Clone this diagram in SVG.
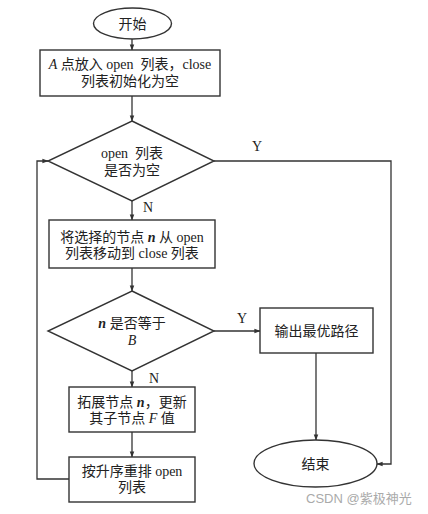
<svg xmlns="http://www.w3.org/2000/svg" width="428" height="514" viewBox="0 0 428 514">
<style>
.s{fill:#fff;stroke:#333;stroke-width:1.4}
.c{fill:none;stroke:#333;stroke-width:1.3}
text{font-family:"Liberation Serif","Noto Sans CJK SC",serif;font-size:14px;fill:#222;text-anchor:middle;white-space:pre}
.i{font-style:italic}
.wm{font-family:"Liberation Sans","Noto Sans CJK SC",sans-serif;font-size:13px;fill:#aaa;text-anchor:start}
</style>
<defs>
<marker id="a" viewBox="0 0 8 8" refX="7.5" refY="4" markerWidth="6" markerHeight="6" orient="auto" markerUnits="userSpaceOnUse"><path d="M0,1 L8,4 L0,7 Z" fill="#333"/></marker>
</defs>
<rect width="428" height="514" fill="#fff"/>
<g id="connectors">
<line class="c" x1="132" y1="39" x2="132" y2="50" marker-end="url(#a)"/>
<line class="c" x1="132" y1="96" x2="132" y2="121" marker-end="url(#a)"/>
<polyline class="c" points="214,161 391,161 391,464 377,464" marker-end="url(#a)"/>
<line class="c" x1="132" y1="201" x2="132" y2="220" marker-end="url(#a)"/>
<line class="c" x1="132" y1="268" x2="132" y2="291" marker-end="url(#a)"/>
<line class="c" x1="214" y1="331" x2="260" y2="331" marker-end="url(#a)"/>
<line class="c" x1="316" y1="353" x2="316" y2="440" marker-end="url(#a)"/>
<line class="c" x1="132" y1="371" x2="132" y2="387" marker-end="url(#a)"/>
<line class="c" x1="132" y1="432" x2="132" y2="457" marker-end="url(#a)"/>
<polyline class="c" points="69,479 37,479 37,161 48,161" marker-end="url(#a)"/>
<text x="257" y="151">Y</text>
<text x="148" y="212">N</text>
<text x="242" y="323">Y</text>
<text x="154" y="383">N</text>
</g>
<g id="start">
<ellipse class="s" cx="132.5" cy="23.5" rx="39" ry="15.5"/>
<text x="132.5" y="28.5">开始</text>
</g>
<g id="init">
<rect class="s" x="40" y="50" width="180" height="46"/>
<text x="130" y="69"><tspan class="i">A</tspan> 点放入 open  列表，close</text>
<text x="130" y="86">列表初始化为空</text>
</g>
<g id="check-open">
<polygon class="s" points="132,121 214,161 132,201 48,161"/>
<text x="132" y="158">open  列表</text>
<text x="132" y="175">是否为空</text>
</g>
<g id="move">
<rect class="s" x="49" y="220" width="166" height="48"/>
<text x="132" y="242">将选择的节点 <tspan class="i" font-weight="bold">n</tspan> 从 open</text>
<text x="132" y="258">列表移动到 close 列表</text>
</g>
<g id="check-b">
<polygon class="s" points="132,291 214,331 132,371 48,331"/>
<text x="132" y="328"><tspan class="i" font-weight="bold">n</tspan> 是否等于</text>
<text x="132" y="345" class="i">B</text>
</g>
<g id="output">
<rect class="s" x="260" y="308" width="113" height="45"/>
<text x="316.5" y="336">输出最优路径</text>
</g>
<g id="expand">
<rect class="s" x="69" y="387" width="126" height="45"/>
<text x="132" y="407">拓展节点 <tspan class="i" font-weight="bold">n</tspan>，更新</text>
<text x="132" y="423">其子节点 <tspan class="i">F</tspan> 值</text>
</g>
<g id="sort">
<rect class="s" x="69" y="457" width="126" height="45"/>
<text x="132" y="476">按升序重排 open</text>
<text x="132" y="492">列表</text>
</g>
<g id="end">
<ellipse class="s" cx="315.5" cy="463.5" rx="61.5" ry="23.5"/>
<text x="315.5" y="468.5">结束</text>
</g>
<text class="wm" x="306" y="503">CSDN @紫极神光</text>
</svg>
